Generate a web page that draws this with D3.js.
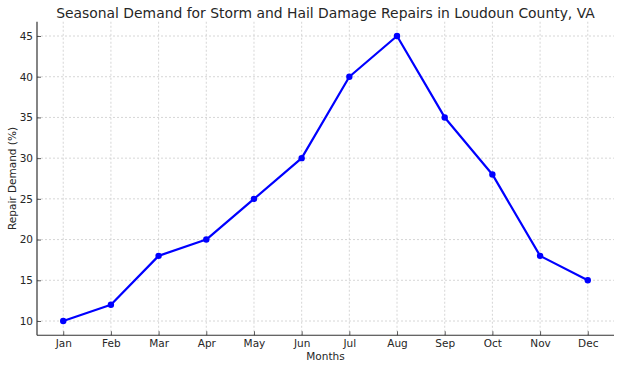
<!DOCTYPE html>
<html><head><meta charset="utf-8">
<script src="https://cdn.jsdelivr.net/npm/d3@7"></script>
<style>body{margin:0;background:#fff}svg{display:block}text{font-family:"DejaVu Sans",sans-serif}</style>
</head><body>
<svg id="c" width="620" height="369"></svg>
<script>
const months = ["Jan","Feb","Mar","Apr","May","Jun","Jul","Aug","Sep","Oct","Nov","Dec"];
const demand = [10,12,18,20,25,30,40,45,35,28,18,15];
const yTicks = [10,15,20,25,30,35,40,45];

const svg = d3.select("#c");
const L=37, R=614, T=21.75, B=335.25;
const x = d3.scaleLinear().domain([-0.55, 11.55]).range([L,R]);
const y = d3.scaleLinear().domain([8.25, 46.75]).range([B,T]);
const txt = "#262626";

// grid
const g = svg.append("g");
g.selectAll(".gx").data(months).join("line")
  .attr("x1",(d,i)=>x(i)).attr("x2",(d,i)=>x(i)).attr("y1",T).attr("y2",B)
  .attr("stroke","#cccccc").attr("stroke-width",0.8).attr("stroke-dasharray","2,2");
g.selectAll(".gy").data(yTicks).join("line")
  .attr("x1",L).attr("x2",R).attr("y1",d=>y(d)).attr("y2",d=>y(d))
  .attr("stroke","#cccccc").attr("stroke-width",0.8).attr("stroke-dasharray","2,2");

// axes
const xAxis = d3.axisBottom(x).tickValues(d3.range(months.length)).tickFormat(i=>months[i]).tickSizeInner(-4).tickSizeOuter(0).tickPadding(4);
const gx = svg.append("g").attr("transform",`translate(0,${B})`).call(xAxis);
const yAxis = d3.axisLeft(y).tickValues(yTicks).tickSizeInner(-4).tickSizeOuter(0).tickPadding(4);
const gy = svg.append("g").attr("transform",`translate(${L},0)`).call(yAxis);
[gx,gy].forEach(a=>{
  a.select(".domain").remove();
  a.selectAll(".tick line").attr("stroke","#333").attr("stroke-width",0.8);
  a.selectAll(".tick text").attr("fill",txt).style("font-size","10.5px").style("font-family","DejaVu Sans");
});
svg.append("line").attr("x1",L).attr("x2",R).attr("y1",B).attr("y2",B).attr("stroke","#333").attr("stroke-width",1.2);
svg.append("line").attr("x1",L).attr("x2",L).attr("y1",T).attr("y2",B).attr("stroke","#333").attr("stroke-width",1.2);

// line
const line = d3.line().x((d,i)=>x(i)).y(d=>y(d));
svg.append("path").datum(demand).attr("d",line).attr("fill","none").attr("stroke","#0000ff").attr("stroke-width",2.2).attr("stroke-linejoin","round");
svg.selectAll(".pt").data(demand).join("circle").attr("cx",(d,i)=>x(i)).attr("cy",d=>y(d)).attr("r",3.2).attr("fill","#0000ff");

// labels
svg.append("text").attr("x",(L+R)/2).attr("y",18).attr("text-anchor","middle").attr("fill",txt).style("font-size","13.9px").text("Seasonal Demand for Storm and Hail Damage Repairs in Loudoun County, VA");
svg.append("text").attr("x",(L+R)/2).attr("y",360).attr("text-anchor","middle").attr("fill",txt).style("font-size","10.5px").text("Months");
svg.append("text").attr("transform",`translate(16,${(T+B)/2}) rotate(-90)`).attr("text-anchor","middle").attr("fill",txt).style("font-size","10.5px").text("Repair Demand (%)");
</script>
</body></html>
